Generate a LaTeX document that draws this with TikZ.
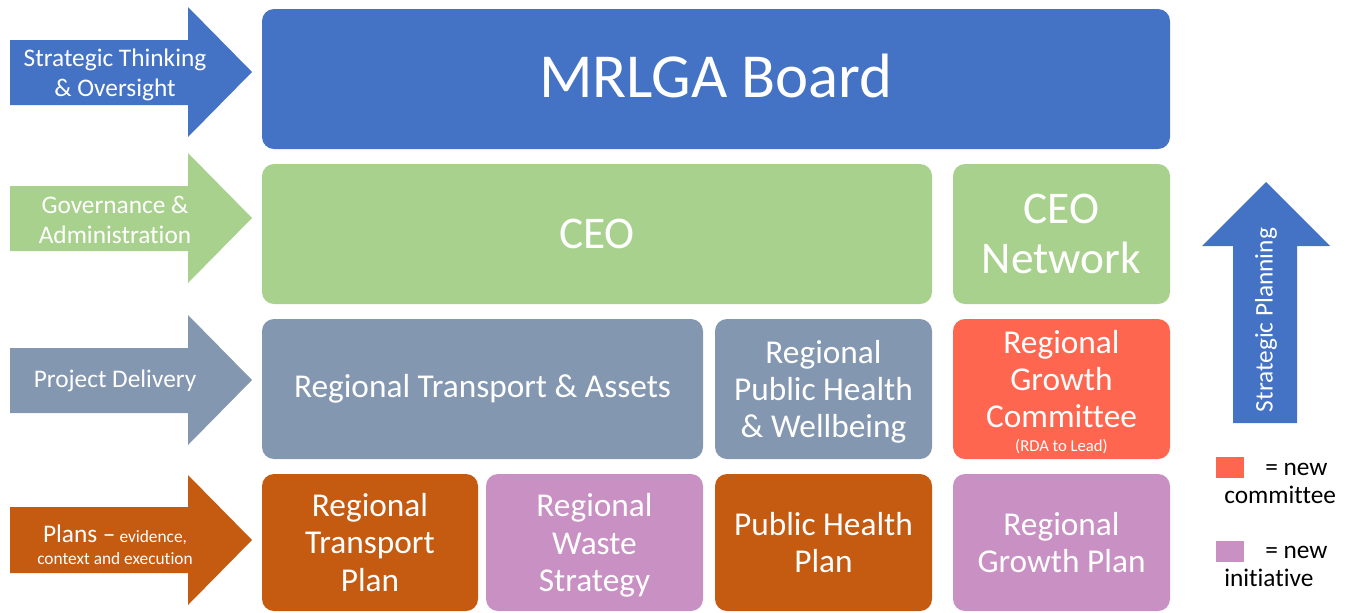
\documentclass[tikz,border=0pt]{standalone}
\usepackage{fontspec}
\setmainfont{Carlito}[Ligatures=NoCommon]
\usepackage{tikz}

\definecolor{boardblue}{RGB}{68,114,196}
\definecolor{ceogreen}{RGB}{169,209,142}
\definecolor{slateblue}{RGB}{132,151,176}
\definecolor{planorange}{RGB}{197,90,17}
\definecolor{newred}{RGB}{255,102,80}
\definecolor{newpurple}{RGB}{201,144,196}

% line with its descender left out of the box height
\newcommand{\nodepth}[1]{\raisebox{0pt}[\height][0pt]{#1}}

\begin{document}
\begin{tikzpicture}[x=0.75pt,y=0.75pt,yscale=-1,xscale=1,
    tile/.style={rounded corners=9pt, inner sep=0pt, text=white, align=center,
        minimum height=105pt, font=\fontsize{25}{28}\selectfont},
    narrow/.style={tile, minimum width=162.75pt},
    arrowtext/.style={inner sep=0pt, text=white, align=center, font=\fontsize{19}{23}\selectfont},
    legendtext/.style={anchor=base west, inner sep=0pt, font=\fontsize{19}{23}\selectfont}]
    \clip (0,0) rectangle (1349,612);

    %Shape: Right Arrow
    \draw  [fill=boardblue, draw opacity=0] (10,40) -- (188,40) -- (188,7) -- (252,72) -- (188,137) -- (188,105) -- (10,105) -- cycle ;
    %Shape: Right Arrow
    \draw  [fill=ceogreen, draw opacity=0] (10,186) -- (188,186) -- (188,153) -- (252,218) -- (188,283) -- (188,251) -- (10,251) -- cycle ;
    %Shape: Right Arrow
    \draw  [fill=slateblue, draw opacity=0] (10,348) -- (188,348) -- (188,315) -- (252,380) -- (188,445) -- (188,413) -- (10,413) -- cycle ;
    %Shape: Right Arrow
    \draw  [fill=planorange, draw opacity=0] (10,507) -- (188,507) -- (188,475) -- (252,540) -- (188,605) -- (188,573) -- (10,573) -- cycle ;
    %Shape: Up Arrow
    \draw  [fill=boardblue, draw opacity=0] (1233,423) -- (1233,246) -- (1202,246) -- (1266,182) -- (1330,246) -- (1297,246) -- (1297,423) -- cycle ;

    % Arrow labels
    \node (thinking) [arrowtext] at (115,75) {Strategic Thinking\\\& Oversight};
    \node (governance) [arrowtext] at (115,220) {Governance \&\\Administration};
    \node (delivery) [arrowtext] at (115,381) {Project Delivery};
    \node (plans) [arrowtext, font=\fontsize{13}{16.5}\selectfont] at (115,545) {{\fontsize{19}{23}\selectfont Plans –} evidence,\\context and execution};
    \node (planning) [arrowtext, rotate=90] at (1266,320) {Strategic Planning};

    % Board and CEO rows
    \node (board) [tile, fill=boardblue, minimum width=681pt, font=\fontsize{47}{50}\selectfont] at (716,79) {\raisebox{2.25pt}[\height][\depth]{MRLGA Board}};
    \node (ceo) [tile, fill=ceogreen, minimum width=502.5pt, font=\fontsize{34}{37.5}\selectfont] at (597,234) {CEO};
    \node (ceonet) [narrow, fill=ceogreen, font=\fontsize{34}{37.5}\selectfont] at (1061.5,234) {CEO\\Network};

    % Project delivery row
    \node (transport) [tile, fill=slateblue, minimum width=330.75pt] at (482.5,389) {Regional Transport \& Assets};
    \node (health) [narrow, fill=slateblue] at (823.5,389) {Regional\\Public Health\\\nodepth{\& Wellbeing}};
    \node (growth) [narrow, fill=newred] at (1061.5,389) {\rule{0pt}{22pt}Regional\\Growth\\Committee\\[-10pt]{\fontsize{12.5}{14}\selectfont (RDA to Lead)}};

    % Plans row
    \node (transplan) [tile, fill=planorange, minimum width=162pt, minimum height=102.75pt] at (370,542.5) {Regional\\Transport\\Plan};
    \node (waste) [narrow, fill=newpurple, minimum height=102.75pt] at (594.5,542.5) {Regional\\Waste\\\nodepth{Strategy}};
    \node (healthplan) [narrow, fill=planorange, minimum height=102.75pt] at (823.5,542.5) {Public Health\\Plan};
    \node (growthplan) [narrow, fill=newpurple, minimum height=102.75pt] at (1061.5,542.5) {Regional\\Growth Plan};

    % Legend
    \node (keyred) [fill=newred, inner sep=0pt, minimum width=21pt, minimum height=15.75pt] at (1230,467) {};
    \node (keyredtext) [legendtext] at (1265,475) {= new};
    \node (keyredword) [legendtext] at (1224,503) {committee};
    \node (keypurple) [fill=newpurple, inner sep=0pt, minimum width=21pt, minimum height=15.75pt] at (1230,551) {};
    \node (keypurpletext) [legendtext] at (1265,558) {= new};
    \node (keypurpleword) [legendtext] at (1224,586) {initiative};

\end{tikzpicture}
\end{document}
